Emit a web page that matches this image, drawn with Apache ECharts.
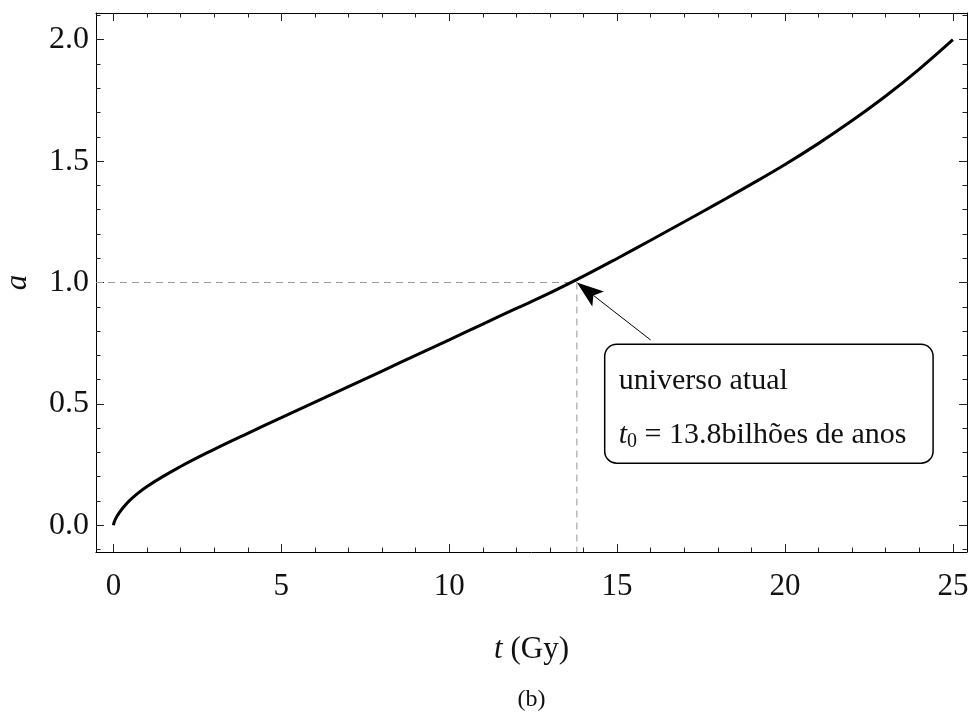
<!DOCTYPE html>
<html>
<head>
<meta charset="utf-8">
<script src="https://cdn.jsdelivr.net/npm/echarts@6/dist/echarts.min.js"></script>
<style>
  html, body { margin: 0; padding: 0; background: #fff; }
  #chart { width: 970px; height: 715px; }
</style>
</head>
<body>
<div id="chart"></div>
<script>
// Scale factor a(t) of the universe against cosmic time t (billions of years)
const timeGy = [0, 0.02, 0.1, 0.25, 0.5, 1, 2, 3, 4, 5, 6, 7, 8, 9, 10, 11, 12, 13,
                14, 15, 16, 17, 18, 19, 20, 21, 22, 23, 24, 25];
const scaleFactor = [0, 0.012, 0.036, 0.066, 0.105, 0.160, 0.242, 0.313, 0.379, 0.443, 0.507,
                     0.571, 0.635, 0.700, 0.764, 0.829, 0.893, 0.957,
                     1.026, 1.099, 1.174, 1.250, 1.327, 1.405, 1.486, 1.573, 1.667, 1.768,
                     1.879, 2.0];

// Present-day universe
const presentTime = 13.8;
const presentScale = 1.0;
const calloutLines = ['universo atual', '{it|t}{sub|0} = 13.8bilhões de anos'];

// Tick values
const xMajorTicks = [0, 5, 10, 15, 20, 25];
const yMajorTicks = [0, 0.5, 1.0, 1.5, 2.0];
const xMinorTicks = [];
for (let i = 1; i < 25; i++) if (i % 5 !== 0) xMinorTicks.push(i);
const yMinorTicks = [];
for (let i = -1; i <= 21; i++) if (i % 5 !== 0) yMinorTicks.push(i / 10);

// Plot range
const xMin = -0.52, xMax = 25.42;
const yMin = -0.11, yMax = 2.11;

const FONT = '"Liberation Serif", "DejaVu Serif", serif';
const TICK_COLOR = '#222';

function xAxisCfg(position, ticks, len, withLabels, withLine) {
  return {
    type: 'value', position: position, min: xMin, max: xMax,
    axisLine: { show: withLine, onZero: false, lineStyle: { color: '#000', width: 1 } },
    axisTick: { show: true, inside: true, length: len, customValues: ticks,
                lineStyle: { color: TICK_COLOR, width: 1 } },
    axisLabel: withLabels
      ? { show: true, customValues: ticks, margin: 19, fontFamily: FONT, fontSize: 31, color: '#111' }
      : { show: false },
    splitLine: { show: false }
  };
}
function yAxisCfg(position, ticks, len, withLabels, withLine) {
  return {
    type: 'value', position: position, min: yMin, max: yMax,
    axisLine: { show: withLine, onZero: false, lineStyle: { color: '#000', width: 1 } },
    axisTick: { show: true, inside: true, length: len, customValues: ticks,
                lineStyle: { color: TICK_COLOR, width: 1 } },
    axisLabel: withLabels
      ? { show: true, customValues: ticks, margin: 7, fontFamily: FONT, fontSize: 32, color: '#111',
          formatter: v => v.toFixed(1) }
      : { show: false },
    splitLine: { show: false }
  };
}

const xAxes = [
  xAxisCfg('bottom', xMajorTicks, 8, true, true),
  xAxisCfg('bottom', xMinorTicks, 4.5, false, false),
  xAxisCfg('top', xMajorTicks, 8, false, true),
  xAxisCfg('top', xMinorTicks, 4.5, false, false)
];
Object.assign(xAxes[0], {
  name: '{it|t} (Gy)', nameLocation: 'middle', nameGap: 82,
  nameTextStyle: { fontFamily: FONT, fontSize: 31, color: '#111',
                   rich: { it: { fontFamily: FONT, fontSize: 31, fontStyle: 'italic', color: '#111' } } }
});
const yAxes = [
  yAxisCfg('left', yMajorTicks, 8, true, true),
  yAxisCfg('left', yMinorTicks, 4.5, false, false),
  yAxisCfg('right', yMajorTicks, 8, false, true),
  yAxisCfg('right', yMinorTicks, 4.5, false, false)
];
Object.assign(yAxes[0], {
  name: 'a', nameLocation: 'middle', nameGap: 63,
  nameTextStyle: { fontFamily: FONT, fontSize: 31, fontStyle: 'italic', color: '#111' }
});

const curve = timeGy.map((t, i) => [t, scaleFactor[i]]);
const dashStyle = { color: '#999', width: 1, type: [7, 5] };

const chart = echarts.init(document.getElementById('chart'), null, { renderer: 'canvas' });
chart.setOption({
  animation: false,
  backgroundColor: '#fff',
  grid: { left: 96, right: 3, top: 13, bottom: 163, containLabel: false, outerBoundsMode: 'none' },
  xAxis: xAxes,
  yAxis: yAxes,
  series: [
    { type: 'line', data: [[xMin, presentScale], [presentTime, presentScale]],
      showSymbol: false, lineStyle: dashStyle, z: 1, silent: true },
    { type: 'line', data: [[presentTime, presentScale], [presentTime, yMin]],
      showSymbol: false, lineStyle: dashStyle, z: 1, silent: true },
    { type: 'line', data: curve, showSymbol: false, smooth: 0.4,
      lineStyle: { color: '#000', width: 3 }, z: 3 }
  ]
});

// Callout: rounded box with text and an arrow pointing at the present-day point
const toPx = p => chart.convertToPixel({ xAxisIndex: 0, yAxisIndex: 0 }, p);
const boxTL = toPx([14.63, 0.746]);
const boxBR = toPx([24.41, 0.256]);
const tip = toPx([presentTime, presentScale]);
const tail = toPx([16.0, 0.763]);

const dx = tip[0] - tail[0], dy = tip[1] - tail[1];
const dl = Math.hypot(dx, dy);
const ux = dx / dl, uy = dy / dl, nx = -uy, ny = ux;
const headLen = 27, headHalf = 9.5, notch = 21;
const base = [tip[0] - ux * headLen, tip[1] - uy * headLen];
const head = [
  tip,
  [base[0] + nx * headHalf, base[1] + ny * headHalf],
  [tip[0] - ux * notch, tip[1] - uy * notch],
  [base[0] - nx * headHalf, base[1] - ny * headHalf]
];

const gridBox = chart.getModel().getComponent('grid').coordinateSystem.getRect();
const textStyleBase = { fontFamily: FONT, fontSize: 30, fill: '#111' };

chart.setOption({
  graphic: [
    { type: 'line', z: 10, shape: { x1: tail[0], y1: tail[1], x2: tip[0] - ux * notch, y2: tip[1] - uy * notch },
      style: { stroke: '#000', lineWidth: 1 } },
    { type: 'polygon', z: 10, shape: { points: head }, style: { fill: '#000' } },
    { type: 'rect', z: 10,
      shape: { x: boxTL[0], y: boxTL[1], width: boxBR[0] - boxTL[0], height: boxBR[1] - boxTL[1], r: 12 },
      style: { fill: '#fff', stroke: '#000', lineWidth: 1.5 } },
    { type: 'text', z: 11,
      style: Object.assign({ x: boxTL[0] + 14, y: boxTL[1] + 37, text: calloutLines[0],
                             verticalAlign: 'middle', align: 'left' }, textStyleBase) },
    { type: 'text', z: 11,
      style: Object.assign({ x: boxTL[0] + 14, y: boxTL[1] + 91, text: calloutLines[1],
                             verticalAlign: 'middle', align: 'left',
                             rich: {
                               it: { fontFamily: FONT, fontSize: 30, fontStyle: 'italic', fill: '#111' },
                               sub: { fontFamily: FONT, fontSize: 20, fill: '#111', padding: [14, 0, 0, 0] }
                             } }, textStyleBase) },
    { type: 'text', z: 11,
      style: { x: gridBox.x + gridBox.width / 2, y: 700, text: '(b)', align: 'center',
               verticalAlign: 'middle', fontFamily: FONT, fontSize: 24, fill: '#111' } }
  ]
});
</script>
</body>
</html>
